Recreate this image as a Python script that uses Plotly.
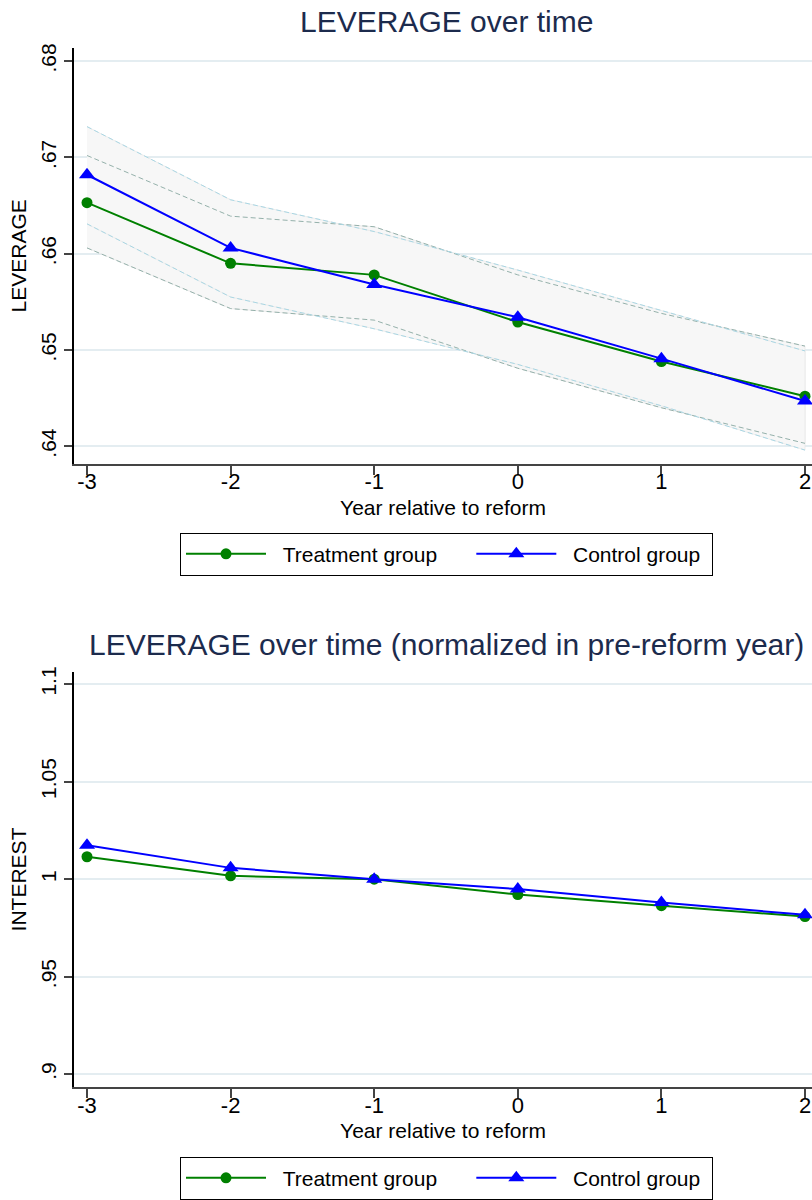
import plotly.graph_objects as go

# ---------------- data ----------------
years = [-3, -2, -1, 0, 1, 2]
year_labels = ["-3", "-2", "-1", "0", "1", "2"]

lev_treat = [0.6653, 0.6590, 0.6578, 0.6529, 0.6488, 0.6452]
lev_ctrl = [0.6682, 0.6606, 0.6568, 0.6534, 0.6491, 0.6447]

treat_hi = [0.6702, 0.6639, 0.6628, 0.6578, 0.6538, 0.6504]
treat_lo = [0.6606, 0.6543, 0.6531, 0.6481, 0.6440, 0.6403]
ctrl_hi = [0.6732, 0.6656, 0.6623, 0.6583, 0.6541, 0.6499]
ctrl_lo = [0.6631, 0.6555, 0.6522, 0.6485, 0.6442, 0.6396]

norm_treat = [1.0115, 1.0017, 1.0000, 0.9921, 0.9864, 0.9808]
norm_ctrl = [1.0174, 1.0058, 1.0000, 0.9949, 0.9881, 0.9817]

top_ticks = [0.64, 0.65, 0.66, 0.67, 0.68]
top_ticklabels = [".64", ".65", ".66", ".67", ".68"]
bot_ticks = [0.90, 0.95, 1.00, 1.05, 1.10]
bot_ticklabels = [".9", ".95", "1", "1.05", "1.1"]

title_top = "LEVERAGE over time"
title_bot = "LEVERAGE over time (normalized in pre-reform year)"
xtitle = "Year relative to reform"
ytitle_top = "LEVERAGE"
ytitle_bot = "INTEREST"
names = ["Treatment group", "Control group"]

# ---------------- style ----------------
FONT = "Liberation Sans, Arial, Helvetica, sans-serif"
W, H = 812, 1200
L = 74
GREEN = "#008000"
BLUE = "#0000ff"
FILL = "#f7f7f7"
GRID = "#e4edf1"
DASH_T = "#94b0aa"
DASH_C = "#a9d6e3"
NB = "\u00a0"


def py(px):
    return 1 - px / H


def px_x(px):
    return (px - L) / (W - L)


# legend labels: padded with non-breaking spaces for spacing
leg_names = [NB * 2 + names[0] + NB * 5, NB * 2 + names[1] + NB]

fig = go.Figure()

# confidence bands (fills)
for hi, lo in [(treat_hi, treat_lo), (ctrl_hi, ctrl_lo)]:
    fig.add_trace(go.Scatter(
        x=years + years[::-1], y=hi + lo[::-1], fill="toself",
        fillcolor=FILL, line=dict(color="#e9e9e9", width=0.8),
        mode="lines", hoverinfo="skip", showlegend=False,
        xaxis="x", yaxis="y"))

# dashed band edges
for arr, col in [(treat_hi, DASH_T), (treat_lo, DASH_T),
                 (ctrl_hi, DASH_C), (ctrl_lo, DASH_C)]:
    fig.add_trace(go.Scatter(
        x=years, y=arr, mode="lines",
        line=dict(color=col, width=1, dash="5px,3px"),
        hoverinfo="skip", showlegend=False, xaxis="x", yaxis="y"))

# top panel series
fig.add_trace(go.Scatter(
    x=years, y=lev_treat, name=leg_names[0], mode="lines+markers",
    line=dict(color=GREEN, width=2),
    marker=dict(symbol="circle", size=11, color=GREEN),
    xaxis="x", yaxis="y", legend="legend"))
fig.add_trace(go.Scatter(
    x=years, y=lev_ctrl, name=leg_names[1], mode="lines+markers",
    line=dict(color=BLUE, width=2),
    marker=dict(symbol="triangle-up", size=14, color=BLUE),
    xaxis="x", yaxis="y", legend="legend"))

# bottom panel series
fig.add_trace(go.Scatter(
    x=years, y=norm_treat, name=leg_names[0], mode="lines+markers",
    line=dict(color=GREEN, width=2),
    marker=dict(symbol="circle", size=11, color=GREEN),
    xaxis="x2", yaxis="y2", legend="legend2"))
fig.add_trace(go.Scatter(
    x=years, y=norm_ctrl, name=leg_names[1], mode="lines+markers",
    line=dict(color=BLUE, width=2),
    marker=dict(symbol="triangle-up", size=14, color=BLUE),
    xaxis="x2", yaxis="y2", legend="legend2"))

xr = [-3.0905, 2.0487]
xcommon = dict(
    range=xr, tickmode="array", tickvals=years, ticktext=year_labels,
    showline=True, linecolor="#444444", linewidth=2,
    ticks="outside", ticklen=9, tickwidth=1.5, tickcolor="#444444",
    ticklabelstandoff=-12,
    showgrid=False, zeroline=False,
    tickfont=dict(size=22, color="black", family=FONT),
    title=dict(text=xtitle, font=dict(size=21, color="black", family=FONT), standoff=7),
)
ycommon = dict(
    tickmode="array", showline=True, linecolor="black", linewidth=1.5,
    ticks="outside", ticklen=8, tickwidth=1.5, tickcolor="#444444",
    showgrid=True, gridcolor=GRID, gridwidth=1.5, zeroline=False,
    tickangle=-90, tickfont=dict(size=21, color="black", family=FONT),
)

legcommon = dict(orientation="h", x=px_x(446.5), xanchor="center",
                 yanchor="top", bgcolor="white",
                 bordercolor="black", borderwidth=1,
                 font=dict(size=21, family=FONT, color="black"),
                 itemwidth=80)

fig.update_layout(
    width=W, height=H,
    margin=dict(l=L, r=0, t=0, b=0),
    paper_bgcolor="white", plot_bgcolor="white",
    font=dict(family=FONT, color="black"),
    xaxis=dict(domain=[0, 1], anchor="y", **xcommon),
    yaxis=dict(domain=[py(463.3), py(43.3)], anchor="x",
               range=[0.63819, 0.68138], tickvals=top_ticks, ticktext=top_ticklabels,
               title=dict(text=ytitle_top, font=dict(size=21, family=FONT), standoff=4),
               **ycommon),
    xaxis2=dict(domain=[0, 1], anchor="y2", **xcommon),
    yaxis2=dict(domain=[py(1093.3), py(673.3)], anchor="x2",
                range=[0.89325, 1.10645], tickvals=bot_ticks, ticktext=bot_ticklabels,
                title=dict(text=ytitle_bot, font=dict(size=21, family=FONT), standoff=4),
                **ycommon),
    legend=dict(y=py(533), **legcommon),
    legend2=dict(y=py(1163.3), **legcommon),
    annotations=[
        dict(text=title_top, xref="paper", yref="paper", x=px_x(446), y=py(17),
             xanchor="center", yanchor="middle", showarrow=False,
             font=dict(size=30, color="#1c2b4d", family=FONT)),
        dict(text=title_bot, xref="paper", yref="paper", x=px_x(446), y=py(646),
             xanchor="center", yanchor="middle", showarrow=False,
             font=dict(size=30, color="#1c2b4d", family=FONT)),
    ],
)

fig.write_html("out.html")
